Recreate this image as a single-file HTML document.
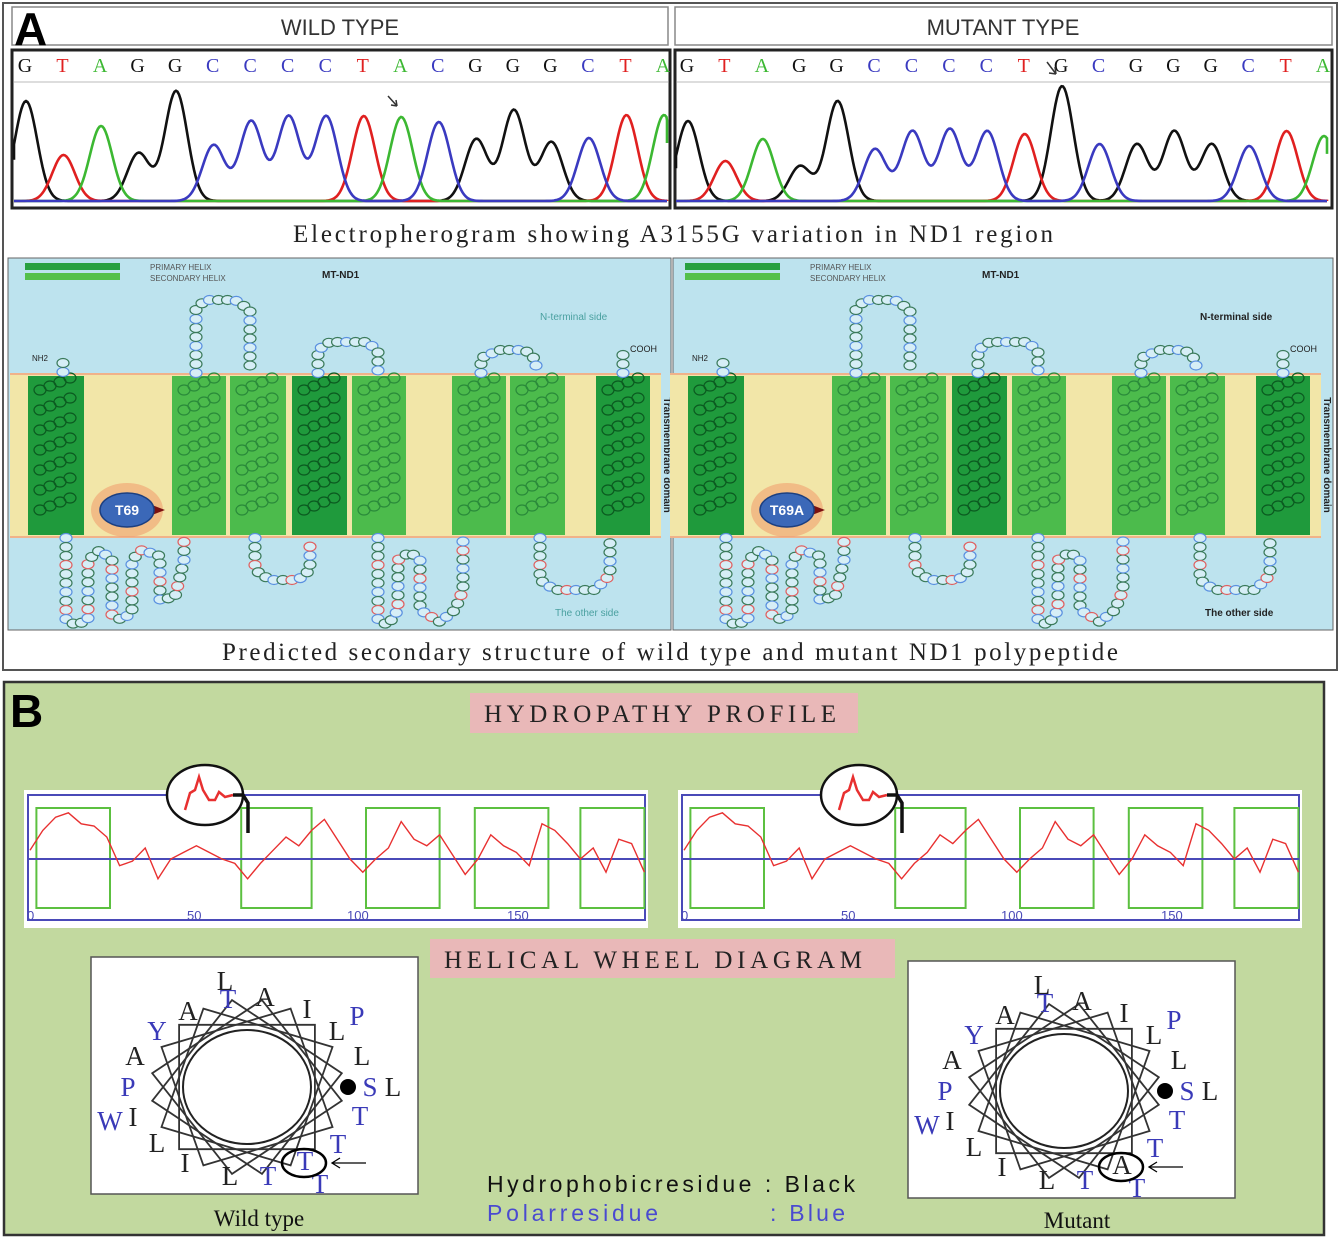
<!DOCTYPE html>
<html><head><meta charset="utf-8"><style>
html,body{margin:0;padding:0;background:#fff;}
svg{display:block;}
text{font-family:"Liberation Sans",sans-serif;}
.serif{font-family:"Liberation Serif",serif;}
</style></head><body>
<svg id="fig" width="1339" height="1239" viewBox="0 0 1339 1239" xmlns="http://www.w3.org/2000/svg">
<rect x="3" y="3" width="1334" height="667" fill="#fff" stroke="#555" stroke-width="2"/>
<rect x="12" y="7" width="656" height="38" fill="#fff" stroke="#888" stroke-width="1.5"/>
<text x="340" y="35" font-size="22" text-anchor="middle" fill="#333">WILD TYPE</text>
<rect x="675" y="7" width="657" height="38" fill="#fff" stroke="#888" stroke-width="1.5"/>
<text x="1003" y="35" font-size="22" text-anchor="middle" fill="#333">MUTANT TYPE</text>
<text x="14" y="45" font-size="46" font-weight="bold" fill="#000">A</text>
<rect x="12" y="50" width="658" height="158" fill="#fff" stroke="#222" stroke-width="3"/>
<rect x="675" y="50" width="657" height="158" fill="#fff" stroke="#222" stroke-width="3"/>
<line x1="14" y1="82" x2="668" y2="82" stroke="#ddd" stroke-width="2"/>
<line x1="677" y1="82" x2="1330" y2="82" stroke="#ddd" stroke-width="2"/>
<g id="electro"></g>
<text x="293" y="242" font-size="25" textLength="760" lengthAdjust="spacing" class="serif" fill="#222">Electropherogram showing A3155G variation in ND1 region</text>
<rect x="8" y="258" width="663" height="372" fill="#bde3ee" stroke="#666"/>
<rect x="673" y="258" width="660" height="372" fill="#bde3ee" stroke="#666"/>
<g id="struct"></g>
<text x="222" y="660" font-size="25" textLength="896" lengthAdjust="spacing" class="serif" fill="#222">Predicted secondary structure of wild type and mutant ND1 polypeptide</text>
<rect x="4" y="682" width="1320" height="553" fill="#c2d99f" stroke="#333" stroke-width="2.5"/>
<text x="10" y="727" font-size="46" font-weight="bold" fill="#000">B</text>
<rect x="470" y="693" width="388" height="40" fill="#e9b8b8"/>
<text x="484" y="722" font-size="25" textLength="352" lengthAdjust="spacing" class="serif" fill="#222">HYDROPATHY PROFILE</text>
<g id="hydro"></g>
<rect x="430" y="939" width="465" height="39" fill="#e9b8b8"/>
<text x="444" y="968" font-size="25" textLength="418" lengthAdjust="spacing" class="serif" fill="#222">HELICAL WHEEL DIAGRAM</text>
<g id="wheels"></g>
<text x="259" y="1226" font-size="23" text-anchor="middle" class="serif" fill="#111">Wild type</text>
<text x="1077" y="1228" font-size="23" text-anchor="middle" class="serif" fill="#111">Mutant</text>
<text x="487" y="1192" font-size="23" textLength="368" lengthAdjust="spacing" fill="#111">Hydrophobicresidue : Black</text>
<text x="487" y="1221" font-size="23" textLength="171" lengthAdjust="spacing" fill="#4a4ad0">Polarresidue</text>
<text x="770" y="1221" font-size="23" textLength="75" lengthAdjust="spacing" fill="#4a4ad0">: Blue</text>
</svg>
<script>
const NS="http://www.w3.org/2000/svg";
function mk(parent,tag,attrs,txt){const e=document.createElementNS(NS,tag);for(const k in attrs)e.setAttribute(k,attrs[k]);if(txt!==undefined)e.textContent=txt;parent.appendChild(e);return e;}

const wildBases=["G","T","A","G","G","C","C","C","C","T","A","C","G","G","G","C","T","A"];
const wildHeights=[100,46,75,48,110,56,80,85,85,85,84,79,62,91,59,63,86,86];
const mutBases=["G","T","A","G","G","C","C","C","C","T","G","C","G","G","G","C","T","A"];
const mutHeights=[80,40,62,35,100,52,70,72,70,67,115,57,57,70,57,55,70,65];
const baseColor={G:"#111",T:"#e02020",A:"#3cb832",C:"#3a3ac0"};
const eg=document.getElementById("electro");
function drawElectro(x0,x1,bases,heights,prefix){
  const step=(x1-x0)/(bases.length-1), base=201, sd=step*0.3;
  const xAt=i=>x0+i*step;
  bases.forEach((b,i)=>{
    const t=mk(eg,"text",{x:xAt(i)-1,y:72,"font-size":20,"text-anchor":"middle",fill:baseColor[b],class:"serif"},b);
    
    
  });
  ["G","T","A","C"].forEach(c=>{
    let d="";
    for(let x=x0-15;x<=x1+10;x+=1.5){
      let y=0;bases.forEach((b,i)=>{if(b===c){const dx=x-xAt(i);y+=heights[i]*Math.exp(-dx*dx/(2*sd*sd));}});
      const xx=Math.max(x0-12,Math.min(x1+3,x));
      d+=(d?"L":"M")+xx.toFixed(1)+","+(base-y).toFixed(1);
    }
    const p=mk(eg,"path",{d:d,fill:"none",stroke:baseColor[c],"stroke-width":2.6});
    
    
  });
}
drawElectro(26,664,wildBases,wildHeights,"wild");
drawElectro(688,1324,mutBases,mutHeights,"mutant");
mk(eg,"path",{d:"M388,96 L397,106 M397,106 L396,100 M397,106 L391,105",stroke:"#333","stroke-width":1.5,fill:"none"});
mk(eg,"path",{d:"M1047,62 L1056,74 M1056,74 L1055,67 M1056,74 L1049,73",stroke:"#333","stroke-width":1.5,fill:"none"});

const sg=document.getElementById("struct");
const helixX=[[28,84],[172,226],[230,286],[292,347],[352,406],[452,506],[510,565],[596,650]];
const helixDark=[1,0,0,1,0,0,0,1];
const loops=[
 [[63,372],[63,355]],
 [[196,373],[196,310],[205,300],[235,300],[250,310],[250,373]],
 [[318,373],[318,350],[330,342],[368,342],[378,352],[378,373]],
 [[481,373],[481,358],[500,350],[525,350],[536,360],[536,373]],
 [[623,373],[623,350]],
 [[66,538],[66,620],[76,625],[88,620],[88,560],[100,550],[112,560],[112,615],[122,620],[132,612],[132,560],[142,550],[160,556],[160,600],[175,597],[184,560],[184,538]],
 [[255,538],[255,570],[270,580],[298,580],[310,570],[310,538]],
 [[378,538],[378,620],[388,625],[398,610],[398,560],[410,552],[420,560],[420,610],[440,622],[455,610],[463,590],[463,538]],
 [[540,538],[540,580],[555,590],[595,590],[610,575],[610,538]]
];
function along(pts,sp){const out=[];let carry=0;for(let i=0;i<pts.length-1;i++){const [ax,ay]=pts[i],[bx,by]=pts[i+1];const L=Math.hypot(bx-ax,by-ay);let t=carry;while(t<=L){out.push([ax+(bx-ax)*t/L,ay+(by-ay)*t/L]);t+=sp;}carry=t-L;}return out;}
function drawStruct(ox,prefix,mutant){
  mk(sg,"rect",{x:ox+10,y:373,width:651,height:165,fill:"#f2e6a8"});
  mk(sg,"line",{x1:ox+10,y1:374,x2:ox+661,y2:374,stroke:"#f0a080","stroke-width":1.5});
  mk(sg,"line",{x1:ox+10,y1:537,x2:ox+661,y2:537,stroke:"#f0a080","stroke-width":1.5});
  mk(sg,"rect",{x:ox+25,y:263,width:95,height:7,fill:"#28a040"});
  mk(sg,"rect",{x:ox+25,y:273,width:95,height:7,fill:"#55c04a"});
  mk(sg,"text",{x:ox+150,y:270,"font-size":8,fill:"#555"},"PRIMARY   HELIX");
  mk(sg,"text",{x:ox+150,y:281,"font-size":8,fill:"#555"},"SECONDARY  HELIX");
  mk(sg,"text",{x:ox+322,y:278,"font-size":10,"font-weight":"bold",fill:"#222"},"MT-ND1");
  mk(sg,"text",{x:ox+540,y:320,"font-size":10,fill:mutant?"#222":"#4aa0a0","font-weight":mutant?"bold":"normal"},"N-terminal side");
  mk(sg,"text",{x:ox+(mutant?545:555),y:616,"font-size":10,fill:mutant?"#222":"#4aa0a0","font-weight":mutant?"bold":"normal"},"The other side");
  mk(sg,"text",{x:ox+32,y:361,"font-size":8,fill:"#222"},"NH2");
  mk(sg,"text",{x:ox+630,y:352,"font-size":9,fill:"#222"},"COOH");
  mk(sg,"text",{x:ox+664,y:455,"font-size":10,"font-weight":"bold",fill:"#222",transform:`rotate(90 ${ox+664} 455)`,"text-anchor":"middle"},"Transmembrane domain");
  helixX.forEach((h,i)=>{
    const r=mk(sg,"rect",{x:ox+h[0],y:376,width:h[1]-h[0],height:159,fill:helixDark[i]?"#1f9a3c":"#4cbb4c"});
    
    
    for(let y=390;y<530;y+=20){for(let k=0;k<4;k++){
      mk(sg,"ellipse",{cx:ox+h[0]+12+k*10,cy:y-k*4,rx:6,ry:5,fill:"none",stroke:helixDark[i]?"#0b5a20":"#2a8a3a","stroke-width":1.2});
    }}
  });
  loops.forEach((lp,li)=>{
    along(lp,9).forEach((p,j)=>{
      const col=(j%5===3&&li>4)?"#e06060":(j%3===0?"#5a90e0":"#3a7a5a");
      mk(sg,"ellipse",{cx:ox+p[0],cy:p[1],rx:6,ry:4.5,fill:"#d6eef6",stroke:col,"stroke-width":1.2});
    });
  });
  const bx=ox+127,by=510;
  mk(sg,"ellipse",{cx:bx,cy:by,rx:36,ry:27,fill:"#f0a070",opacity:0.6});
  mk(sg,"path",{d:`M${bx+25},${by-5} L${bx+38},${by} L${bx+25},${by+5}Z`,fill:"#7a1010"});
  const e=mk(sg,"ellipse",{cx:bx,cy:by,rx:27,ry:17,fill:"#3b68b8",stroke:"#1c3f80","stroke-width":1.5});
  
  
  mk(sg,"text",{x:bx,y:by+5,"font-size":14,"font-weight":"bold",fill:"#fff","text-anchor":"middle"},mutant?"T69A":"T69");
}
drawStruct(0,"wild",false);
drawStruct(660,"mutant",true);

const residues=[0,4,8,12,16,20,24,28,32,36,40,44,48,52,56,60,64,68,72,76,80,84,88,92,96,100,104,108,112,116,120,124,128,132,136,140,144,148,152,156,160,164,168,172,176,180,184,188,192];
const wildHydro=[0.4,1.3,1.9,2.1,1.6,1.5,1.0,-0.3,-0.1,0.5,-0.9,0.0,0.3,0.6,0.3,0.0,-0.2,-0.9,-0.2,0.4,1.0,0.6,1.3,1.8,0.9,0.0,-0.6,0.0,0.5,1.7,0.9,0.6,1.1,0.2,-0.7,0.0,1.1,0.6,0.3,-0.3,1.6,1.3,0.7,0.0,0.5,-0.6,0.9,0.7,-0.6];
const mutHydro=[0.4,1.3,1.9,2.1,1.6,1.5,1.0,-0.3,-0.1,0.5,-0.9,0.0,0.3,0.6,0.3,0.0,-0.2,-0.9,-0.2,0.3,1.1,0.7,1.3,1.8,0.9,0.0,-0.6,0.0,0.5,1.7,0.9,0.6,1.1,0.2,-0.7,0.0,1.1,0.6,0.3,-0.3,1.6,1.3,0.7,0.0,0.5,-0.6,0.9,0.7,-0.6];
const helixRanges=[[2,25],[66,88],[105,128],[139,162],[172,192]];
const tickVals=[0,50,100,150];
const tickLabels=["0","50","100","150"];
const hg=document.getElementById("hydro");
function drawHydro(ox,vals,prefix){
  const X=r=>ox+30+r*3.2, Y=v=>859-v*22;
  mk(hg,"rect",{x:ox+24,y:790,width:624,height:138,fill:"#fff"});
  mk(hg,"rect",{x:ox+28,y:795,width:617,height:125,fill:"none",stroke:"#4a4ab8","stroke-width":2});
  helixRanges.forEach((h,i)=>{
    const r=mk(hg,"rect",{x:X(h[0]),y:808,width:X(h[1])-X(h[0]),height:100,fill:"none",stroke:"#5cc040","stroke-width":2});
    
    
  });
  mk(hg,"line",{x1:ox+28,y1:859,x2:ox+645,y2:859,stroke:"#4a4ab8","stroke-width":2});
  const d=residues.map((r,i)=>(i?"L":"M")+X(r).toFixed(1)+","+Y(vals[i]).toFixed(1)).join("");
  const p=mk(hg,"path",{d:d,fill:"none",stroke:"#e83030","stroke-width":1.4});
  
  
  tickVals.forEach((t,i)=>{
    const tx=mk(hg,"text",{x:X(t)-3,y:920,"font-size":13,fill:"#4a4ab8"},tickLabels[i]);
    
    
  });
  const cx=ox+205,cy=795;
  mk(hg,"ellipse",{cx:cx,cy:cy,rx:38,ry:30,fill:"#fff",stroke:"#111","stroke-width":2.5});
  mk(hg,"path",{d:`M${cx-20},${cy+15} L${cx-15},${cy-2} L${cx-10},${cy-5} L${cx-6},${cy-18} L${cx-2},${cy-5} L${cx+4},${cy+5} L${cx+10},${cy+5} L${cx+14},${cy-3} L${cx+20},${cy+2} L${cx+28},${cy}`,fill:"none",stroke:"#e83030","stroke-width":2.5});
  mk(hg,"path",{d:`M${cx+28},${cy} L${cx+38},${cy} L${cx+43},${cy+8} L${cx+43},${cy+38}`,fill:"none",stroke:"#111","stroke-width":3.5});
}
drawHydro(0,wildHydro,"wild");
drawHydro(654,mutHydro,"mutant");

const wheelLetters=["L","T","A","I","P","L","Y","A","A","L","P","S","L","W","I","T","L","T","I","L","T","T","T"];
const wheelPolar=[0,1,0,0,1,0,1,0,0,0,1,1,0,1,0,1,0,1,0,0,1,1,1];
const wheelPos=[[225,990],[228,1008],[265,1006],[307,1018],[357,1025],[337,1040],[157,1040],[188,1020],[135,1065],[362,1065],[128,1096],[370,1096],[393,1096],[110,1130],[133,1126],[360,1125],[157,1152],[338,1153],[185,1172],[230,1185],[268,1185],[305,1170],[320,1193]];
const wg=document.getElementById("wheels");
function drawWheel(ox,oy,prefix,mutant){
  mk(wg,"rect",{x:ox+91,y:oy+957,width:327,height:237,fill:"#fff",stroke:"#555","stroke-width":1.5});
  const cx=ox+247,cy=oy+1087;
  for(let k=0;k<5;k++){
    const pts=[];for(let j=0;j<4;j++){const a=(k*18+j*90+9)*Math.PI/180;pts.push((cx+96*Math.cos(a)).toFixed(1)+","+(cy+88*Math.sin(a)).toFixed(1));}
    mk(wg,"polygon",{points:pts.join(" "),fill:"none",stroke:"#333","stroke-width":1.8});
  }
  mk(wg,"ellipse",{cx:cx,cy:cy,rx:64,ry:57,fill:"#fff",stroke:"#222","stroke-width":2});
  mk(wg,"circle",{cx:ox+348,cy:oy+1087,r:8,fill:"#000"});
  wheelLetters.forEach((l,i)=>{
    let letter=l,pol=wheelPolar[i];
    if(mutant&&i===21){letter="A";pol=0;}
    const t=mk(wg,"text",{x:ox+wheelPos[i][0],y:oy+wheelPos[i][1],"font-size":27,"text-anchor":"middle",class:"serif",fill:pol?"#3a3ab8":"#222"},letter);
    
    
  });
  mk(wg,"ellipse",{cx:ox+304,cy:oy+1163,rx:22,ry:14,fill:"none",stroke:"#000","stroke-width":2.5});
  mk(wg,"path",{d:`M${ox+366},${oy+1163} L${ox+332},${oy+1163} M${ox+340},${oy+1158} L${ox+332},${oy+1163} L${ox+340},${oy+1168}`,fill:"none",stroke:"#000","stroke-width":1.3});
}
drawWheel(0,0,"wild",false);
drawWheel(817,4,"mutant",true);
</script>
</body></html>
